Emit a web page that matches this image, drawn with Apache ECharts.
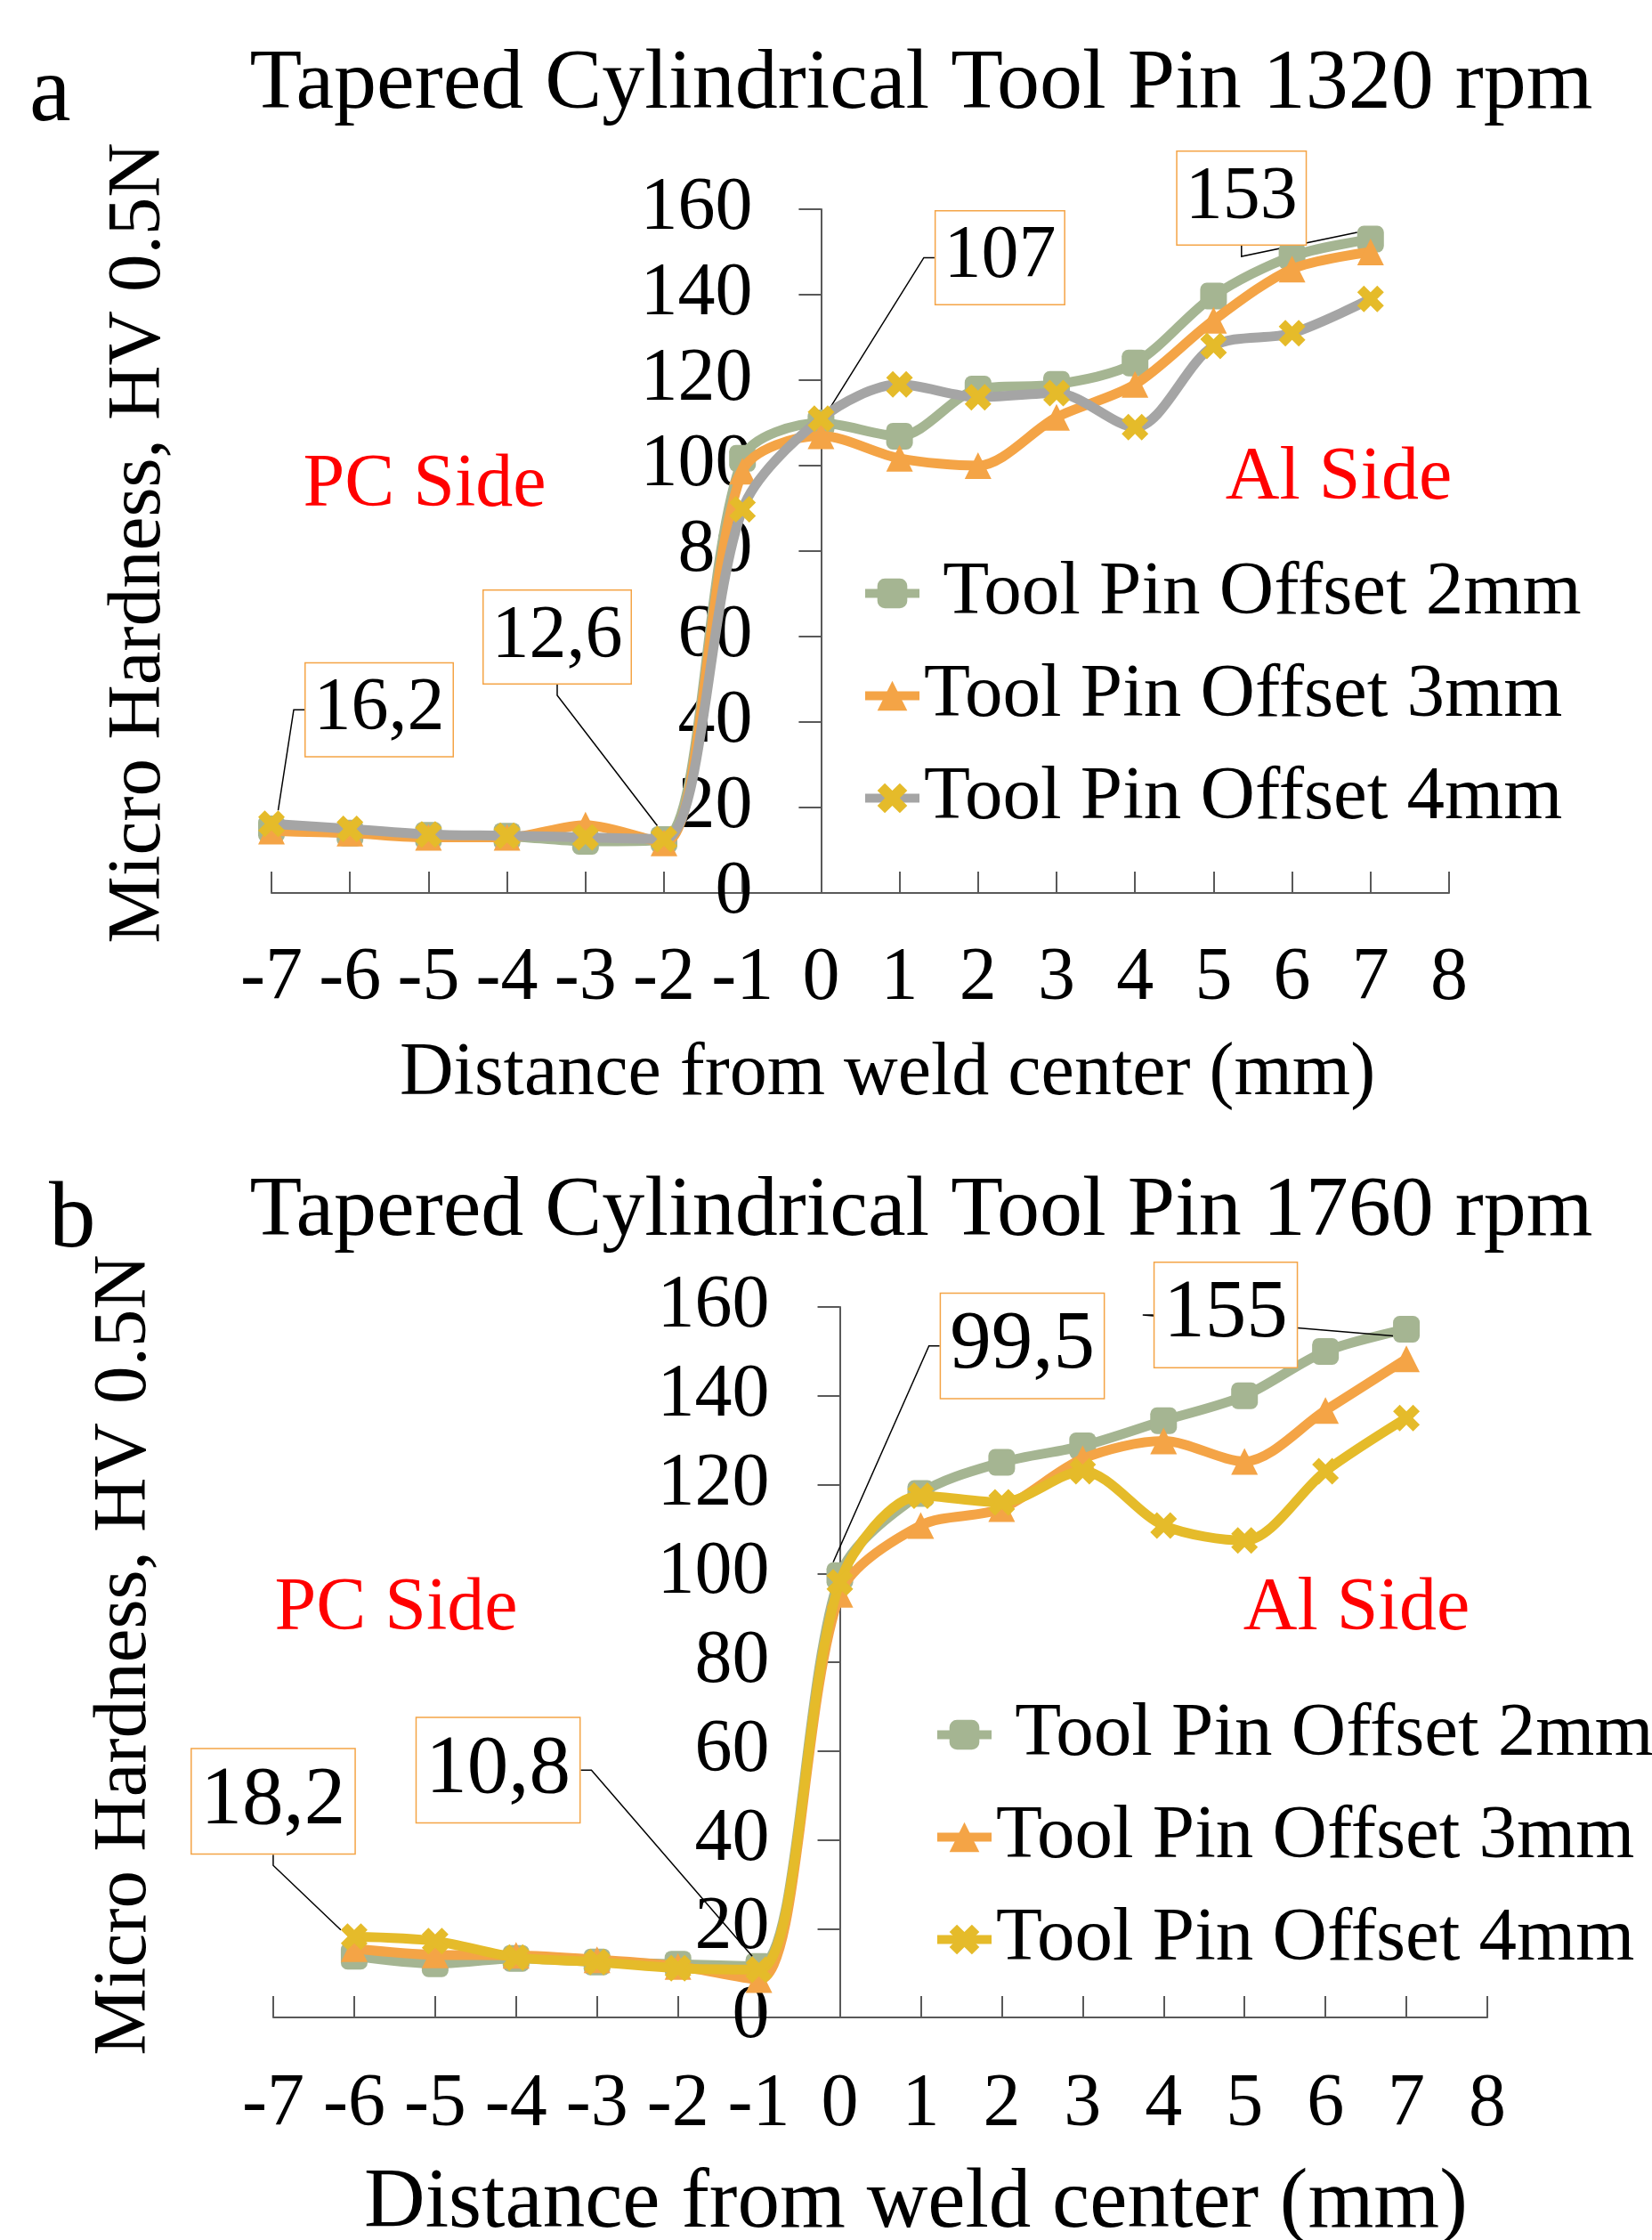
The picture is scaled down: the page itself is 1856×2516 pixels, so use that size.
<!DOCTYPE html>
<html>
<head>
<meta charset="utf-8">
<script src="https://cdn.jsdelivr.net/npm/echarts@6/dist/echarts.min.js"></script>
<style>
html,body{margin:0;padding:0;background:#fff;}
#chartA,#chartB{width:1856px;height:1258px;}
</style>
</head>
<body>
<div id="chartA"></div>
<div id="chartB"></div>
<script>
// ---------------- data ----------------
const seriesNames = ['Tool Pin Offset 2mm', 'Tool Pin Offset 3mm', 'Tool Pin Offset 4mm'];

// Panel a: 1320 rpm
const distA = [-7, -6, -5, -4, -3, -2, -1, 0, 1, 2, 3, 4, 5, 6, 7];
const hardA_2mm = [15, 14, 13.5, 13.3, 12.1, 12.5, 101.7, 110, 106.9, 117.9, 119, 124, 139.7, 149, 153];
const hardA_3mm = [14.5, 14, 13, 13, 15.9, 11.7, 98.7, 107, 101.7, 100, 111.3, 119, 134, 146, 150];
const hardA_4mm = [16.2, 15, 13.7, 13.4, 13, 12.6, 89.8, 111, 119, 116, 117, 109, 128, 131, 139];

// Panel b: 1760 rpm
const distB = [-6, -5, -4, -3, -2, -1, 0, 1, 2, 3, 4, 5, 6, 7];
const hardB_2mm = [13.8, 12.1, 13.3, 12.5, 12, 11.5, 99.5, 118, 125, 128.7, 134.4, 140, 150, 155];
const hardB_3mm = [15.5, 14.1, 14, 13, 11.5, 8.5, 95.3, 110.8, 114.6, 125.8, 129.8, 125.2, 136.7, 148.3];
const hardB_4mm = [18.2, 17.2, 13.5, 12.5, 11.1, 10.8, 98, 117.5, 116, 123, 110.8, 107.4, 123, 135];

// annotated points: [seriesIndex, distance]
const calloutsA = [[2, -7], [2, -2], [1, 0], [0, 7]];
const calloutsB = [[2, -6], [2, -1], [0, 0], [0, 7]];

const xMin = -7, xMax = 8, xStep = 1;
const yMin = 0, yMax = 160, yStep = 20;

// ---------------- styling ----------------
const FONT = '"Liberation Serif", "Times New Roman", serif';
const GREEN = '#A5B592', ORANGE = '#F4A446', GRAY = '#A5A5A5', YELLOW = '#E5BB2A';
const AXIS = '#595959';
const XMARK = 'path://M0,2.5L2.5,0L5,2.5L7.5,0L10,2.5L7.5,5L10,7.5L7.5,10L5,7.5L2.5,10L0,7.5L2.5,5Z';
const PAGE_W = 1856;

function buildOption(cfg) {
  const calloutOffsets = {};
  cfg.callouts.forEach((c, i) => { calloutOffsets[c[0] + '_' + c[1]] = cfg.offsets[i]; });

  const styles = [
    {symbol: 'roundRect', line: GREEN, mark: GREEN},
    {symbol: 'triangle', line: ORANGE, mark: ORANGE},
    {symbol: XMARK, line: cfg.line4, mark: YELLOW}
  ];

  const series = cfg.values.map((vals, si) => ({
    type: 'line',
    name: seriesNames[si],
    smooth: 0.3,
    symbol: styles[si].symbol,
    symbolSize: si === 2 ? 30 : 30,
    showSymbol: true,
    z: 2 + si,
    lineStyle: {color: styles[si].line, width: 11},
    itemStyle: {color: styles[si].mark},
    emphasis: {disabled: true},
    labelLine: {show: true, length2: 12, lineStyle: {color: '#000', width: 1.5}},
    labelLayout: function (p) {
      const o = calloutOffsets[p.seriesIndex + '_' + cfg.dist[p.dataIndex]];
      if (!o) return {};
      return {
        x: p.rect.x + p.rect.width / 2 + o[0],
        y: p.rect.y + p.rect.height / 2 + o[1],
        align: 'center',
        verticalAlign: 'middle'
      };
    },
    data: cfg.dist.map((d, i) => {
      const item = {value: [d, vals[i]]};
      if (calloutOffsets[si + '_' + d]) {
        item.label = {
          show: true,
          formatter: String(vals[i]).replace('.', ','),
          fontFamily: FONT,
          fontSize: cfg.calloutFont,
          lineHeight: cfg.calloutFont,
          color: '#000',
          backgroundColor: '#fff',
          borderColor: ORANGE,
          borderWidth: 1.5,
          padding: cfg.calloutPad
        };
      }
      return item;
    })
  }));

  const txt = (x, y, text, size, color, rot) => ({
    type: 'text', x: x, y: y, rotation: rot || 0, z: 10,
    style: {text: text, fill: color || '#000', font: size + 'px ' + FONT,
            textAlign: 'center', textVerticalAlign: 'middle', align: 'center', verticalAlign: 'middle'}
  });

  // the value axis is drawn through x = 0, as in the original figure
  const plotW = PAGE_W - cfg.grid.left - cfg.grid.right;
  const yAxisOffset = -plotW * (0 - xMin) / (xMax - xMin);

  return {
    animation: false,
    backgroundColor: '#fff',
    grid: cfg.grid,
    xAxis: {
      type: 'value', min: xMin, max: xMax, interval: xStep,
      axisLine: {show: true, onZero: false, lineStyle: {color: AXIS, width: 2}},
      axisTick: {show: true, inside: true, length: 24, lineStyle: {color: AXIS, width: 2}},
      axisLabel: {margin: cfg.xLabelMargin, fontSize: 84, fontFamily: FONT, color: '#000'},
      splitLine: {show: false}
    },
    yAxis: {
      type: 'value', min: yMin, max: yMax, interval: yStep,
      position: 'left', offset: yAxisOffset,
      axisLine: {show: true, onZero: false, lineStyle: {color: AXIS, width: 2}},
      axisTick: {show: true, inside: false, length: 25, lineStyle: {color: AXIS, width: 2}},
      axisLabel: {margin: cfg.yLabelMargin, fontSize: 84, fontFamily: FONT, color: '#000'},
      splitLine: {show: false}
    },
    legend: {
      orient: 'vertical', left: cfg.legendLeft, top: cfg.legendTop,
      itemWidth: 61, itemHeight: 42, itemGap: 30,
      data: seriesNames,
      formatter: n => (n === seriesNames[0] ? ' ' + n : n),
      lineStyle: {width: 10},
      textStyle: {fontSize: 85, fontFamily: FONT, color: '#000', lineHeight: 85}
    },
    graphic: [
      {type: 'text', left: cfg.letterPos[0], top: cfg.letterPos[1], z: 10,
       style: {text: cfg.letter, fill: '#000', font: '105px ' + FONT}},
      txt(cfg.titlePos[0], cfg.titlePos[1], cfg.title, 96),
      txt(cfg.yNamePos[0], cfg.yNamePos[1], 'Micro Hardness, HV 0.5N', 85, '#000', Math.PI / 2),
      txt(cfg.xNamePos[0], cfg.xNamePos[1], 'Distance from weld center (mm)', cfg.xNameSize),
      txt(cfg.pcPos[0], cfg.pcPos[1], 'PC Side', 84, '#FF0000'),
      txt(cfg.alPos[0], cfg.alPos[1], 'Al Side', 84, '#FF0000')
    ],
    series: series
  };
}

const chartA = echarts.init(document.getElementById('chartA'), null, {renderer: 'canvas'});
chartA.setOption(buildOption({
  dist: distA,
  values: [hardA_2mm, hardA_3mm, hardA_4mm],
  line4: GRAY,
  callouts: calloutsA,
  offsets: [[121, -128], [-120, -227], [201, -200], [-145, -46]],
  calloutFont: 84, calloutPad: [10, 9],
  grid: {left: 305, right: 228, top: 235, bottom: 255},
  xLabelMargin: 55, yLabelMargin: 77,
  legendLeft: 962, legendTop: 619,
  letter: 'a', letterPos: [33, 55],
  title: 'Tapered Cylindrical Tool Pin 1320 rpm', titlePos: [1035, 96],
  yNamePos: [157, 610],
  xNamePos: [997, 1207], xNameSize: 84,
  pcPos: [477, 546], alPos: [1504, 538]
}));

const chartB = echarts.init(document.getElementById('chartB'), null, {renderer: 'canvas'});
chartB.setOption(buildOption({
  dist: distB,
  values: [hardB_2mm, hardB_3mm, hardB_4mm],
  line4: YELLOW,
  callouts: calloutsB,
  offsets: [[-91, -152], [-293, -224], [205, -258], [-203, -16]],
  calloutFont: 93, calloutPad: [12, 10],
  grid: {left: 307, right: 185, top: 210, bottom: 250},
  xLabelMargin: 57, yLabelMargin: 79,
  legendLeft: 1043, legendTop: 643,
  letter: 'b', letterPos: [55, 62],
  title: 'Tapered Cylindrical Tool Pin 1760 rpm', titlePos: [1035, 104],
  yNamePos: [141, 601],
  xNamePos: [1029, 1218], xNameSize: 95,
  pcPos: [445, 550], alPos: [1524, 550]
}));
</script>
</body>
</html>
